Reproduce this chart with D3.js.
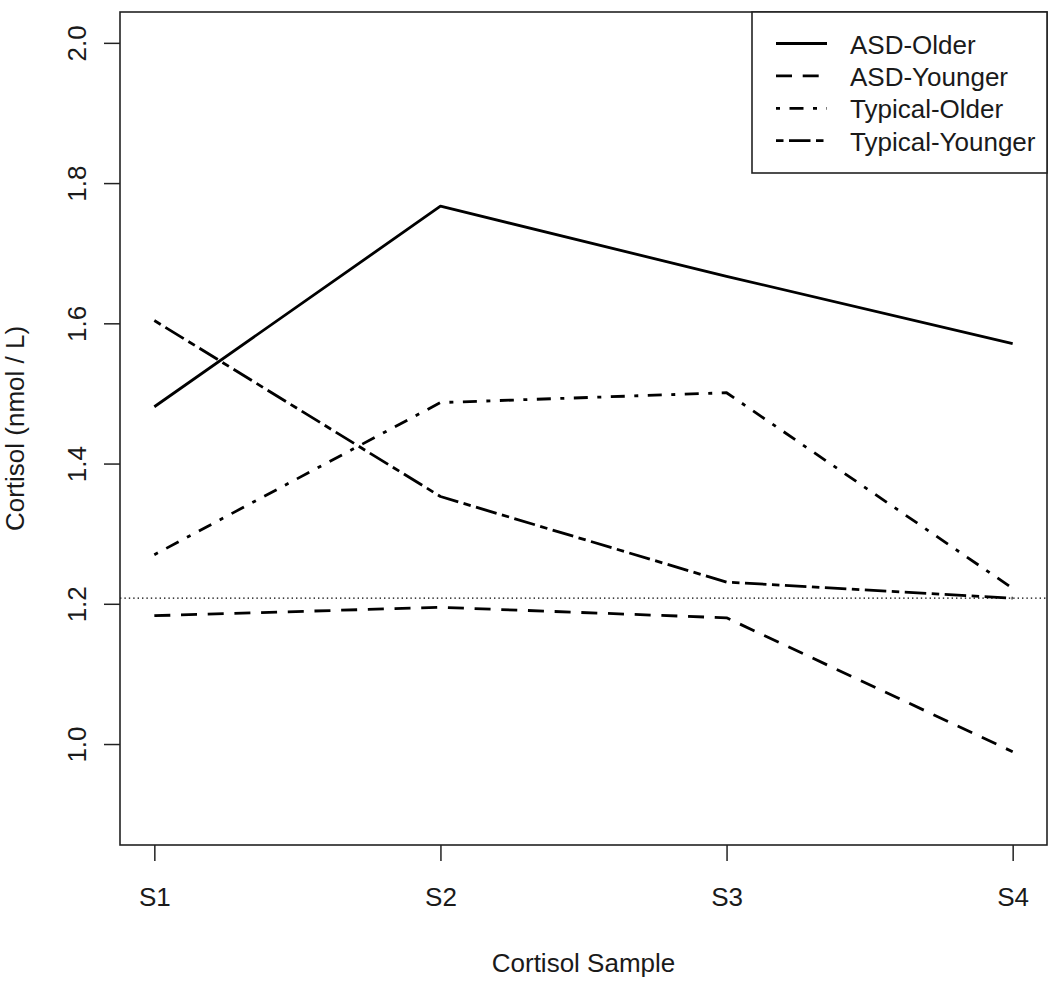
<!DOCTYPE html>
<html>
<head>
<meta charset="utf-8">
<script src="https://cdn.jsdelivr.net/npm/d3@7/dist/d3.min.js"></script>
<style>
  html, body { margin: 0; padding: 0; background: #fff; }
  svg { display: block; }
  text { font-family: "Liberation Sans", Arial, sans-serif; fill: #1a1a1a; }
</style>
</head>
<body>
<svg id="chart" width="1050" height="983"></svg>
<script>
// ---- data ----
const samples = ["S1", "S2", "S3", "S4"];
const seriesNames = ["ASD-Older", "ASD-Younger", "Typical-Older", "Typical-Younger"];
const asdOlder = [1.481, 1.767, 1.667, 1.571];
const asdYounger = [1.183, 1.195, 1.180, 0.989];
const typicalOlder = [1.270, 1.487, 1.501, 1.222];
const typicalYounger = [1.604, 1.353, 1.231, 1.208];
const referenceLevel = 1.208;
const yTicks = [1.0, 1.2, 1.4, 1.6, 1.8, 2.0];
const yLimits = [0.9, 2.0];

const seriesValues = [asdOlder, asdYounger, typicalOlder, typicalYounger];
const dashes = [null, "16,10.7", "4,9.5,14,9.5", "7.5,5.5,21.5,5.5"];

// ---- layout ----
const svg = d3.select("#chart");
const box = { left: 120, right: 1047, top: 12, bottom: 845 };

const x = d3.scalePoint().domain(samples).range([box.left, box.right]).padding(0.12);
const ext = (yLimits[1] - yLimits[0]) * 0.04;
const y = d3.scaleLinear().domain([yLimits[0] - ext, yLimits[1] + ext]).range([box.bottom, box.top]);

// reference dotted line
svg.append("line")
  .attr("x1", box.left).attr("x2", box.right)
  .attr("y1", y(referenceLevel)).attr("y2", y(referenceLevel))
  .attr("stroke", "#000").attr("stroke-width", 1.3)
  .attr("stroke-dasharray", "1.4,3");

// series lines
const line = d3.line().x((d, i) => x(samples[i])).y(d => y(d));
seriesValues.forEach((vals, i) => {
  svg.append("path")
    .attr("d", line(vals))
    .attr("fill", "none")
    .attr("stroke", "#000")
    .attr("stroke-width", 2.8)
    .attr("stroke-linejoin", "round")
    .attr("stroke-dasharray", dashes[i]);
});

// plot box
svg.append("rect")
  .attr("x", box.left).attr("y", box.top)
  .attr("width", box.right - box.left).attr("height", box.bottom - box.top)
  .attr("fill", "none").attr("stroke", "#222").attr("stroke-width", 1.6);

// y axis
const yAxis = d3.axisLeft(y).tickValues(yTicks).tickSize(16).tickFormat(d3.format(".1f"));
const gy = svg.append("g").attr("transform", `translate(${box.left},0)`).call(yAxis);
gy.select(".domain").remove();
gy.selectAll(".tick line").attr("stroke", "#222").attr("stroke-width", 1.5);
gy.selectAll(".tick text")
  .attr("x", null).attr("dy", null)
  .attr("text-anchor", "middle")
  .attr("transform", "translate(-34,0) rotate(-90)")
  .style("font-size", "26px")
  .style("font-family", "'Liberation Sans', Arial, sans-serif")
  .attr("fill", "#1a1a1a");

// x axis
const xAxis = d3.axisBottom(x).tickSize(16);
const gx = svg.append("g").attr("transform", `translate(0,${box.bottom})`).call(xAxis);
gx.select(".domain").remove();
gx.selectAll(".tick line").attr("stroke", "#222").attr("stroke-width", 1.5);
gx.selectAll(".tick text")
  .attr("y", 61).attr("dy", null)
  .style("font-size", "26px")
  .style("font-family", "'Liberation Sans', Arial, sans-serif")
  .attr("fill", "#1a1a1a");

// axis titles
svg.append("text")
  .attr("x", (box.left + box.right) / 2).attr("y", 972)
  .attr("text-anchor", "middle")
  .style("font-size", "26px")
  .text("Cortisol Sample");

svg.append("text")
  .attr("transform", `translate(24,${(box.top + box.bottom) / 2}) rotate(-90)`)
  .attr("text-anchor", "middle")
  .style("font-size", "26px")
  .text("Cortisol (nmol / L)");

// legend
const lg = svg.append("g");
lg.append("rect")
  .attr("x", 752).attr("y", box.top)
  .attr("width", box.right - 752).attr("height", 161)
  .attr("fill", "#fff").attr("stroke", "#222").attr("stroke-width", 1.6);
seriesNames.forEach((name, i) => {
  const ly = 43.5 + i * 32.4;
  lg.append("line")
    .attr("x1", 776).attr("x2", 827)
    .attr("y1", ly).attr("y2", ly)
    .attr("stroke", "#000").attr("stroke-width", 2.8)
    .attr("stroke-dasharray", dashes[i]);
  lg.append("text")
    .attr("x", 850).attr("y", ly + 10)
    .style("font-size", "26px")
    .text(name);
});
</script>
</body>
</html>
